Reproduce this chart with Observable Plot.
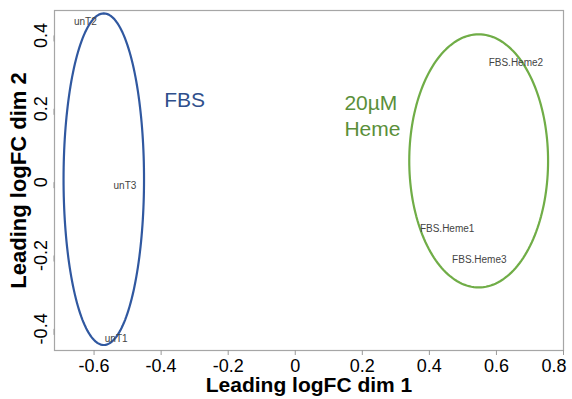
<!DOCTYPE html>
<html>
<head>
<meta charset="utf-8">
<script src="https://cdn.jsdelivr.net/npm/d3@7"></script>
<script src="https://cdn.jsdelivr.net/npm/@observablehq/plot@0.6"></script>
<style>
  html, body { margin: 0; padding: 0; background: #fff; }
  #chart svg { display: block; }
</style>
</head>
<body>
<div id="chart"></div>
<script>
// Samples (MDS plot)
const sampleNames = ["unT2", "unT3", "unT1", "FBS.Heme2", "FBS.Heme1", "FBS.Heme3"];
const dim1 = [-0.626, -0.508, -0.534, 0.658, 0.453, 0.549];
const dim2 = [0.438, -0.009, -0.427, 0.325, -0.127, -0.212];

// Group ellipses
const groupNames = ["FBS", "20µM\nHeme"];
const groupColors = ["#3058a0", "#70ad47"];
const groupTextColors = ["#2f4f8c", "#5a8f3a"];
const ellipseCx = [-0.571, 0.547];
const ellipseCy = [0.008, 0.058];
const ellipseRx = [0.120, 0.207];
const ellipseRy = [0.452, 0.345];
const groupLabelX = [-0.391, 0.1465];
const groupLabelY = [0.2276, 0.183];

// Axis ticks
const xTicks = [-0.6, -0.4, -0.2, 0, 0.2, 0.4, 0.6, 0.8];
const yTicks = [-0.4, -0.2, 0, 0.2, 0.4];
const xTitle = "Leading logFC dim 1";
const yTitle = "Leading logFC dim 2";

const samples = sampleNames.map((name, i) => ({name, x: dim1[i], y: dim2[i]}));

// ellipse outlines (geometry derived from centre/radius arrays)
const ellipsePts = [];
groupNames.forEach((g, i) => {
  const n = 180;
  for (let k = 0; k <= n; k++) {
    const t = (2 * Math.PI * k) / n;
    ellipsePts.push({group: g, x: ellipseCx[i] + ellipseRx[i] * Math.cos(t), y: ellipseCy[i] + ellipseRy[i] * Math.sin(t)});
  }
});
const groupLabels = groupNames.map((g, i) => ({text: g, x: groupLabelX[i], y: groupLabelY[i], color: groupTextColors[i]}));

const lastX = xTicks[xTicks.length - 1];
const fmt = d => (d === lastX ? "" : String(d));

const chart = Plot.plot({
  width: 572,
  height: 399,
  marginLeft: 54,
  marginRight: 9,
  marginTop: 10,
  marginBottom: 49,
  style: {fontFamily: "'Liberation Sans', Arial, sans-serif", background: "#fff"},
  x: {domain: [-0.718, 0.8]},
  y: {domain: [-0.459, 0.468]},
  color: {domain: groupNames, range: groupColors},
  marks: [
    Plot.frame({stroke: "#a6a6a6", strokeWidth: 1.2}),
    Plot.axisX({ticks: xTicks, tickFormat: fmt, tickSize: 5, tickPadding: 4, fontSize: 18, stroke: "#999", fill: "#000", label: null}),
    Plot.text([lastX], {x: d => d, text: d => String(d), frameAnchor: "bottom", dy: 9, lineAnchor: "top", textAnchor: "end", dx: 3, fontSize: 18, fill: "#000"}),
    Plot.axisY({ticks: yTicks, tickFormat: String, tickSize: 6, tickPadding: 2, fontSize: 18, rotate: -90, textAnchor: "middle", lineAnchor: "bottom", stroke: "#999", fill: "#000", label: null}),
    Plot.text([xTitle], {text: d => d, frameAnchor: "bottom", dy: 35, textAnchor: "middle", lineAnchor: "middle", fontSize: 21, fontWeight: "bold", fill: "#000"}),
    Plot.text([yTitle], {text: d => d, frameAnchor: "left", dx: -36, rotate: -90, textAnchor: "middle", lineAnchor: "middle", fontSize: 22, fontWeight: "bold", fill: "#000"}),
    Plot.line(ellipsePts, {x: "x", y: "y", z: "group", stroke: "group", strokeWidth: 2.2, curve: "linear"}),
    Plot.text(samples, {x: "x", y: "y", text: "name", fontSize: 10, fill: "#444"}),
    Plot.text(groupLabels, {x: "x", y: "y", text: "text", fill: "color", textAnchor: "start", lineAnchor: "middle", fontSize: 21, lineHeight: 1.23})
  ]
});
document.getElementById("chart").append(chart);
</script>
</body>
</html>
